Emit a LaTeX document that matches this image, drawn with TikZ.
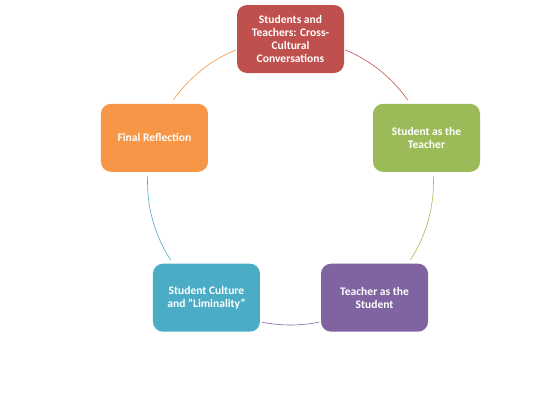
\documentclass[tikz,border=0pt]{standalone}
\usepackage{fontspec}
\setmainfont{Carlito}
\usetikzlibrary{positioning}
\definecolor{stepred}{HTML}{C0504D}
\definecolor{stepgreen}{HTML}{9BBB59}
\definecolor{steppurple}{HTML}{8064A2}
\definecolor{stepteal}{HTML}{4BACC6}
\definecolor{steporange}{HTML}{F79646}
\tikzset{
  stagebox/.style={draw=none, rounded corners=10bp, minimum width=107bp, minimum height=68bp,
    align=center, text=white, font=\fontsize{11.6}{13.3}\selectfont\bfseries, inner sep=2bp},
  ring/.style={line width=0.6pt}
}

\begin{document}
\begin{tikzpicture}[x=1bp, y=1bp]
        \useasboundingbox (-290.5,-223) rectangle (262.5,182);
        \coordinate (O) at (0,0);
        % boxes round the cycle
        \node[stagebox, fill=stepred] (S1) at (90:143) {Students and\\Teachers: Cross-\\Cultural\\Conversations};
        \node[stagebox, fill=stepgreen] (S2) at (18:143) {Student as the\\Teacher};
        \node[stagebox, fill=steppurple] (S3) at (-54:143) {Teacher as the\\Student};
        \node[stagebox, fill=stepteal] (S4) at (-126:143) {Student Culture\\and \symbol{"22}Liminality\symbol{"22}};
        \node[stagebox, fill=steporange] (S5) at (162:143) {Final Reflection};
        % arcs between them
        \draw[ring, stepred] (O) ++(67.5:143) arc[start angle=67.5, end angle=35, radius=143];
        \draw[ring, stepgreen] (O) ++(2.5:143) arc[start angle=2.5, end angle=-33, radius=143];
        \draw[ring, steppurple] (O) ++(-78.5:143) arc[start angle=-78.5, end angle=-101.5, radius=143];
        \draw[ring, stepteal] (O) ++(-147:143) arc[start angle=-147, end angle=-182.5, radius=143];
        \draw[ring, steporange] (O) ++(145:143) arc[start angle=145, end angle=112.5, radius=143];
\end{tikzpicture}
\end{document}
